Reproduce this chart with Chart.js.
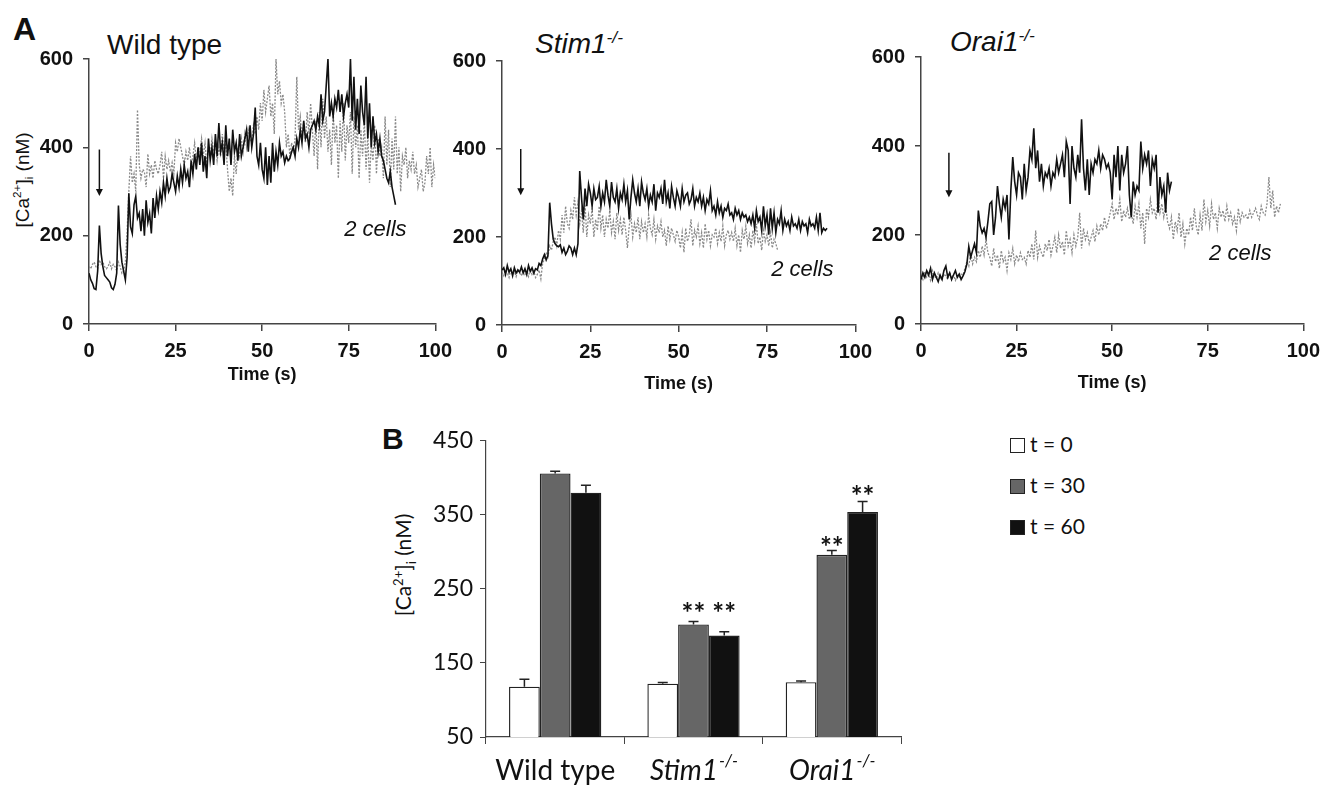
<!DOCTYPE html>
<html>
<head>
<meta charset="utf-8">
<script src="https://cdn.jsdelivr.net/npm/chart.js@4.4.1/dist/chart.umd.min.js"></script>
<style>
  body { margin: 0; background: #fff; width: 1328px; height: 786px; position: relative; overflow: hidden; font-family: "Liberation Sans", Arial, sans-serif; color: #111; }
  .box { position: absolute; }
  .txt { position: absolute; white-space: nowrap; line-height: 1; color: #111; }
  .rot { position: absolute; white-space: nowrap; line-height: 1; transform: translate(-50%, -50%) rotate(-90deg); }
  sup, sub { font-size: 62%; line-height: 0; }
  .leg { position: absolute; left: 1010px; font-family: Lato, "Open Sans", sans-serif; font-size: 21px; line-height: 1; }
  .leg i { display: inline-block; width: 13px; height: 13px; border: 1.5px solid #222; margin-right: 5px; vertical-align: -1px; }
</style>
</head>
<body>

<div class="txt" style="left:13px;top:13px;font-size:32px;font-weight:bold">A</div>
<div class="txt" style="left:107px;top:31px;font-size:28px">Wild type</div>
<div class="txt" style="left:535px;top:30px;font-size:28px;font-style:italic">Stim1<sup>-/-</sup></div>
<div class="txt" style="left:950px;top:28px;font-size:28px;font-style:italic">Orai1<sup>-/-</sup></div>
<div class="rot" style="left:22px;top:180px;font-size:19px">[Ca<sup>2+</sup>]<sub>i</sub> (nM)</div>

<div class="box" style="left:0;top:0"><canvas id="wt" width="460" height="420"></canvas></div>
<div class="box" style="left:440px;top:0"><canvas id="stim" width="440" height="420"></canvas></div>
<div class="box" style="left:860px;top:0"><canvas id="orai" width="468" height="420"></canvas></div>

<div class="txt" style="left:382px;top:424px;font-size:30px;font-weight:bold">B</div>
<div class="rot" style="left:402px;top:565px;font-size:21px;font-family:Lato,'Open Sans',sans-serif">[Ca<sup>2+</sup>]<sub>i</sub> (nM)</div>
<div class="box" style="left:370px;top:420px"><canvas id="bars" width="560" height="366"></canvas></div>
<div id="legend"></div>

<script>
// ---- panel A: [Ca2+]i traces, one sample every 0.5 s ----
const timeStep = 0.5;

const wtBlack = [
  115,100,92,80,78,120,223,160,130,110,
  105,100,95,82,78,90,115,268,180,140,
  120,100,150,296,220,205,270,289,240,251,
  210,260,200,280,230,250,205,285,240,290,
  260,300,275,320,290,330,300,310,340,320,
  300,335,310,350,320,360,330,345,310,370,
  340,385,350,400,360,410,345,380,330,420,
  370,400,360,430,380,455,390,410,360,450,
  380,420,360,440,390,410,370,430,380,400,
  420,440,390,450,400,430,490,380,360,410,
  350,330,400,315,380,320,410,345,390,360,
  410,380,390,365,380,370,375,390,400,380,
  420,400,440,410,460,420,430,400,440,450,
  460,440,470,450,520,460,480,540,600,470,
  500,470,510,490,530,480,520,470,500,520,
  490,600,460,560,440,510,430,540,480,450,
  560,420,500,400,470,410,430,390,420,380,
  370,350,330,320,345,310,290,270
];
const wtGrey = [
  130,125,135,140,130,125,145,135,140,130,
  125,130,140,125,135,130,120,140,130,115,
  120,140,210,300,380,320,340,300,485,360,
  330,350,345,310,385,340,360,330,370,350,
  340,360,390,330,380,350,370,345,365,340,
  410,390,420,400,380,360,390,370,400,360,
  380,410,370,400,390,420,380,410,360,400,
  380,420,390,410,370,400,380,430,390,410,
  350,300,330,290,380,340,400,380,420,390,
  430,400,440,420,410,450,430,470,440,500,
  460,530,480,510,540,470,500,430,600,520,
  550,500,520,480,400,430,380,410,390,420,
  560,440,470,420,460,410,480,430,500,440,
  380,460,350,480,400,510,420,470,390,440,
  360,480,410,450,330,460,390,500,370,450,
  410,480,340,470,400,450,330,440,380,460,
  350,430,320,410,370,450,340,420,380,400,
  330,470,360,440,310,420,350,470,340,400,
  300,380,360,400,330,370,350,390,340,360,
  310,330,350,300,320,380,340,400,310,360,
  330
];
const stimBlack = [
  125,130,115,135,120,128,112,130,118,125,
  120,132,118,128,115,135,122,130,118,128,
  125,140,135,150,160,148,158,278,230,195,
  185,180,178,182,165,175,160,168,180,175,
  160,175,160,185,350,290,240,310,270,320,
  300,270,310,285,290,315,270,300,280,330,
  295,270,325,290,280,310,265,300,285,320,
  280,305,240,290,330,300,280,310,270,325,
  300,285,310,270,295,280,320,260,300,290,
  310,275,330,280,300,265,315,290,270,305,
  290,270,310,280,295,300,275,285,310,270,
  290,280,300,270,290,260,285,275,305,260,
  270,250,280,255,270,245,265,260,275,250,
  255,240,265,250,260,240,255,245,250,235,
  245,230,250,220,260,235,245,215,270,225,
  250,205,265,220,255,210,240,230,260,215,
  240,225,235,215,245,225,230,220,240,215,
  235,225,230,210,240,225,230,220,245,215,
  255,210,220,215,220
];
const stimGrey = [
  120,112,125,118,108,128,115,122,110,125,
  118,112,126,115,120,110,128,115,122,108,
  115,125,105,140,150,165,155,180,170,190,
  200,180,215,195,250,210,270,230,220,260,
  240,290,250,280,230,260,210,275,200,250,
  230,265,200,240,215,270,220,250,200,240,
  220,260,210,235,195,255,215,240,205,245,
  215,175,225,250,200,230,210,245,195,235,
  210,230,200,250,220,205,240,195,225,210,
  235,200,215,180,225,195,220,205,190,215,
  200,175,210,165,220,190,205,240,180,215,
  200,225,185,210,175,230,195,215,180,205,
  200,220,185,210,190,225,180,205,215,195,
  210,190,220,180,205,165,215,195,225,185,
  205,175,215,190,230,185,200,170,215,190,
  205,180,210,175,195,185,170
];
const oraiBlack = [
  100,115,105,120,110,125,100,115,105,95,
  110,100,120,130,105,115,100,110,120,105,
  112,100,108,118,135,174,150,165,180,160,
  255,220,205,215,195,230,270,275,200,240,
  310,270,240,280,260,290,190,300,375,320,
  290,340,330,280,360,300,330,390,370,440,
  350,390,320,360,310,340,330,350,310,340,
  330,370,340,360,380,330,410,390,270,400,
  350,330,380,340,460,350,300,370,290,360,
  340,370,360,390,350,380,370,350,360,340,
  280,380,330,400,300,380,340,360,400,290,
  240,320,290,310,300,410,350,380,360,390,
  310,370,350,380,250,330,290,310,250,340,
  300,320
];
const oraiGrey = [
  110,100,118,105,112,98,120,108,102,115,
  105,98,112,108,100,116,104,110,98,108,
  105,112,110,125,140,130,160,135,150,140,
  165,150,175,155,190,160,150,130,170,140,
  155,125,165,140,150,120,160,145,170,135,
  155,140,160,145,150,135,165,150,180,145,
  210,150,175,160,150,180,165,190,155,175,
  195,160,200,170,185,155,210,175,190,160,
  200,175,195,250,170,215,190,205,180,195,
  210,185,220,200,225,210,240,215,230,250,
  270,235,260,245,280,230,255,240,260,235,
  250,225,265,240,270,215,250,180,260,240,
  280,250,260,235,290,250,270,240,265,230,
  215,240,190,230,210,250,195,225,180,215,
  200,240,210,260,220,200,245,210,280,230,
  255,220,270,235,250,215,260,240,255,230,
  265,235,250,225,240,210,260,230,250,240,
  245,235,255,240,250,260,245,235,265,250,
  245,270,330,260,300,240,265,250,270
];

// ---- panel B: mean [Ca2+]i with error ----
const groups = ['Wild type', 'Stim1', 'Orai1'];
const groupSup = ['', '-/-', '-/-'];
const seriesNames = ['t = 0', 't = 30', 't = 60'];
const meanT0 = [118, 122, 124];
const meanT30 = [406, 202, 296];
const meanT60 = [380, 187, 354];
const errT0 = [10, 1.5, 1.5];
const errT30 = [3, 4, 6];
const errT60 = [10, 5, 14];
const sigT0 = ['', '', ''];
const sigT30 = ['', '**', '**'];
const sigT60 = ['', '**', '**'];

const ARIAL = '"Liberation Sans", Arial, sans-serif';
const LATO = 'Lato, "Open Sans", sans-serif';
const AXIS = '#444';

const notesPlugin = {
  id: 'notes',
  afterDatasetsDraw(chart, args, opts) {
    const { ctx } = chart, x = chart.scales.x, y = chart.scales.y;
    const px = x.getPixelForValue(opts.arrowAt);
    const y1 = y.getPixelForValue(opts.arrowFrom), y2 = y.getPixelForValue(opts.arrowTo);
    ctx.save();
    ctx.strokeStyle = '#111'; ctx.fillStyle = '#111'; ctx.lineWidth = 1.5;
    ctx.beginPath(); ctx.moveTo(px, y1); ctx.lineTo(px, y2 - 5); ctx.stroke();
    ctx.beginPath(); ctx.moveTo(px - 3.5, y2 - 7); ctx.lineTo(px + 3.5, y2 - 7); ctx.lineTo(px, y2); ctx.closePath(); ctx.fill();
    ctx.font = 'italic 22px ' + ARIAL;
    ctx.textAlign = 'center'; ctx.textBaseline = 'middle';
    ctx.fillText('2 cells', x.getPixelForValue(opts.noteAt[0]), y.getPixelForValue(opts.noteAt[1]));
    ctx.restore();
  }
};

function toPoints(vals) {
  return vals.map((v, i) => ({ x: i * timeStep, y: v }));
}

function traceChart(id, black, grey, lay, notes) {
  new Chart(document.getElementById(id), {
    type: 'line',
    data: {
      datasets: [
        { data: toPoints(black), borderColor: '#111', borderWidth: 1.6, pointRadius: 0, tension: 0 },
        { data: toPoints(grey), borderColor: '#8a8a8a', borderWidth: 1.3, borderDash: [2, 1.5], pointRadius: 0, tension: 0 }
      ]
    },
    options: {
      responsive: false, animation: false, parsing: false,
      layout: { padding: { top: lay.top, right: lay.right, bottom: lay.bottom, left: 0 } },
      plugins: { legend: { display: false }, tooltip: { enabled: false }, notes: notes },
      scales: {
        x: {
          type: 'linear', min: 0, max: 100,
          ticks: { stepSize: 25, padding: 8, color: '#111', font: { family: ARIAL, size: 20, weight: 'bold' }, maxRotation: 0 },
          grid: { drawOnChartArea: false, tickLength: 7, color: AXIS, lineWidth: 1.5 },
          border: { color: AXIS, width: 1.5 },
          title: { display: true, text: 'Time (s)', color: '#111', font: { family: ARIAL, size: 18, weight: 'bold' } },
          afterFit: s => { s.height = lay.xh; }
        },
        y: {
          min: 0, max: 600,
          ticks: { stepSize: 200, padding: 10, color: '#111', font: { family: ARIAL, size: 20, weight: 'bold' } },
          grid: { drawOnChartArea: false, tickLength: 6, color: AXIS, lineWidth: 1.5 },
          border: { color: AXIS, width: 1.5 },
          afterFit: s => { s.width = lay.yw; }
        }
      }
    },
    plugins: [notesPlugin]
  });
}

traceChart('wt', wtBlack, wtGrey, { top: 59, right: 19, bottom: 30, xh: 66, yw: 89 },
  { arrowAt: 3, arrowFrom: 395, arrowTo: 290, noteAt: [82.7, 213] });
traceChart('stim', stimBlack, stimGrey, { top: 61, right: 21, bottom: 21, xh: 74, yw: 62 },
  { arrowAt: 5.3, arrowFrom: 400, arrowTo: 295, noteAt: [85, 125] });
traceChart('orai', oraiBlack, oraiGrey, { top: 57, right: 19, bottom: 22, xh: 74, yw: 61 },
  { arrowAt: 7.3, arrowFrom: 385, arrowTo: 285, noteAt: [83.5, 158] });

// ---- bar chart ----
const barFill = ['#ffffff', '#666666', '#111111'];
const errs = [errT0, errT30, errT60];
const sigs = [sigT0, sigT30, sigT60];
// where each "**" sits, in axis units
const starAt = [[0, 0, 0], [0, 224, 314], [0, 224, 382]];

const barExtras = {
  id: 'barExtras',
  afterDatasetsDraw(chart) {
    const { ctx } = chart, y = chart.scales.y, x = chart.scales.x;
    ctx.save();
    ctx.strokeStyle = '#222'; ctx.lineWidth = 1.5; ctx.fillStyle = '#111';
    chart.data.datasets.forEach((ds, di) => {
      chart.getDatasetMeta(di).data.forEach((bar, i) => {
        const top = y.getPixelForValue(ds.data[i] + errs[di][i]);
        ctx.beginPath();
        ctx.moveTo(bar.x, bar.y); ctx.lineTo(bar.x, top);
        ctx.moveTo(bar.x - 5, top); ctx.lineTo(bar.x + 5, top);
        ctx.stroke();
        if (sigs[di][i]) {
          ctx.font = 'bold 28px ' + LATO; ctx.textAlign = 'center'; ctx.textBaseline = 'alphabetic';
          ctx.fillText(sigs[di][i], bar.x, y.getPixelForValue(starAt[di][i]) + 15);
        }
      });
    });
    // category labels (italic gene names with superscript)
    ctx.textBaseline = 'middle';
    groups.forEach((g, i) => {
      const cx = x.getPixelForValue(i), cy = x.top + 34;
      const main = (groupSup[i] ? 'italic ' : '') + '28px ' + LATO;
      const sup = (groupSup[i] ? 'italic ' : '') + '17px ' + LATO;
      ctx.font = main; const w1 = ctx.measureText(g).width;
      ctx.font = sup; const w2 = groupSup[i] ? ctx.measureText(groupSup[i]).width : 0;
      const x0 = cx - (w1 + w2) / 2;
      ctx.textAlign = 'left';
      ctx.font = main; ctx.fillText(g, x0, cy);
      if (groupSup[i]) { ctx.font = sup; ctx.fillText(groupSup[i], x0 + w1 + 1, cy - 9); }
    });
    ctx.restore();
  }
};

new Chart(document.getElementById('bars'), {
  type: 'bar',
  data: {
    labels: groups,
    datasets: [meanT0, meanT30, meanT60].map((d, i) => ({
      label: seriesNames[i], data: d, backgroundColor: barFill[i], borderColor: '#222', borderWidth: 1.4
    }))
  },
  options: {
    responsive: false, animation: false,
    categoryPercentage: 0.667, barPercentage: 1,
    layout: { padding: { top: 17, right: 29, bottom: 0, left: 0 } },
    plugins: { legend: { display: false }, tooltip: { enabled: false } },
    scales: {
      x: {
        ticks: { display: false },
        grid: { drawOnChartArea: false, tickLength: 7, color: AXIS, offset: true },
        border: { color: AXIS, width: 1.2 },
        afterFit: s => { s.height = 49; }
      },
      y: {
        min: 50, max: 450,
        ticks: { stepSize: 100, padding: 7, color: '#111', font: { family: LATO, size: 23 } },
        grid: { drawOnChartArea: false, tickLength: 6, color: AXIS },
        border: { color: AXIS, width: 1.2 },
        afterFit: s => { s.width = 116; }
      }
    }
  },
  plugins: [barExtras]
});

// legend built from the series names
const legTops = [433, 474, 515];
document.getElementById('legend').innerHTML = seriesNames.map((n, i) =>
  `<div class="leg" style="top:${legTops[i]}px"><i style="background:${barFill[i]}"></i>${n}</div>`).join('');
</script>
</body>
</html>
